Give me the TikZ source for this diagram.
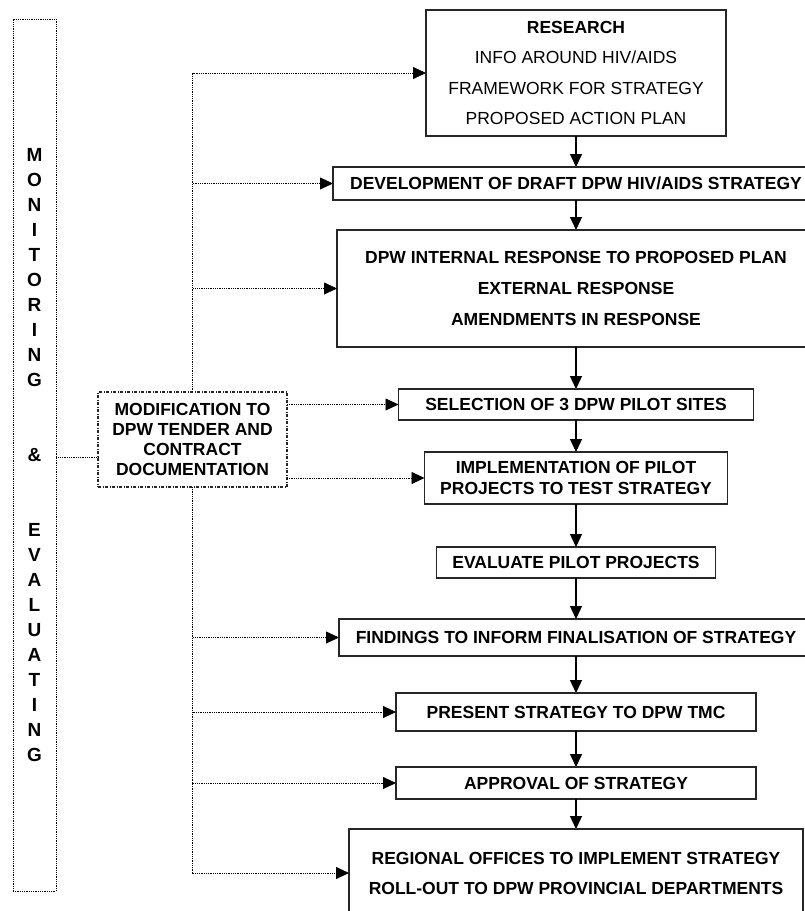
\documentclass[tikz,border=0pt]{standalone}
\usepackage{fontspec}
\setmainfont{Liberation Sans}
\usetikzlibrary{positioning,arrows.meta}

\tikzset{
    stage/.style={draw=black!85, line width=1.2pt, fill=white, align=center, inner sep=0pt, outer sep=0pt,
        font=\fontsize{17.5}{20}\selectfont\bfseries},
    flow/.style={draw, line width=1.3pt, -{Triangle[length=13pt,width=12pt]}},
    feed/.style={draw, line width=0.8pt, dash pattern=on 0.9pt off 0.9pt, -{Triangle[length=13pt,width=12pt]}},
}

\begin{document}
\begin{tikzpicture}[x=1pt, y=-1pt]
    \useasboundingbox (0,0) rectangle (805,911);

    % main chain
    \node[stage, minimum width=300pt, minimum height=126pt, font=\fontsize{17.5}{30.5}\selectfont] (research) at (576,73)
        {\textbf{RESEARCH}\\INFO AROUND HIV/AIDS\\FRAMEWORK FOR STRATEGY\\PROPOSED ACTION PLAN};
    \node[stage, below=31pt of research, minimum width=486pt, minimum height=33pt] (draft)
        {DEVELOPMENT OF DRAFT DPW HIV/AIDS STRATEGY};
    \node[stage, below=30pt of draft, minimum width=478pt, minimum height=117pt, font=\fontsize{17.5}{31}\selectfont\bfseries] (response)
        {DPW INTERNAL RESPONSE TO PROPOSED PLAN\\EXTERNAL RESPONSE\\AMENDMENTS IN RESPONSE};
    \node[stage, below=42pt of response, minimum width=355pt, minimum height=31pt] (sites)
        {SELECTION OF 3 DPW PILOT SITES};
    \node[stage, below=32pt of sites, minimum width=303pt, minimum height=52pt, font=\fontsize{17.5}{21}\selectfont\bfseries] (pilot)
        {IMPLEMENTATION OF PILOT\\PROJECTS TO TEST STRATEGY};
    \node[stage, below=43pt of pilot, minimum width=279pt, minimum height=31pt] (evaluate)
        {EVALUATE PILOT PROJECTS};
    \node[stage, below=41pt of evaluate, minimum width=474pt, minimum height=37pt] (findings)
        {FINDINGS TO INFORM FINALISATION OF STRATEGY};
    \node[stage, below=37pt of findings, minimum width=360pt, minimum height=38pt] (present)
        {PRESENT STRATEGY TO DPW TMC};
    \node[stage, below=36pt of present, minimum width=360pt, minimum height=32pt] (approval)
        {APPROVAL OF STRATEGY};
    \node[stage, below=30pt of approval, minimum width=454pt, minimum height=88pt, font=\fontsize{17.5}{30}\selectfont\bfseries] (rollout)
        {REGIONAL OFFICES TO IMPLEMENT STRATEGY\\ROLL-OUT TO DPW PROVINCIAL DEPARTMENTS};

    % side boxes
    \node[stage, dash pattern=on 3pt off 1.5pt on 1pt off 1.5pt, minimum width=189pt, minimum height=95pt,
        font=\fontsize{17.5}{20.3}\selectfont\bfseries] (mod) at (192.5,439.5)
        {MODIFICATION TO\\DPW TENDER AND\\CONTRACT\\DOCUMENTATION};
    \node[draw, line width=0.8pt, dash pattern=on 0.9pt off 0.9pt, minimum width=43pt, minimum height=872pt,
        align=center, font=\fontsize{19}{25}\selectfont\bfseries] (monitor) at (34.5,455)
        {M\\O\\N\\I\\T\\O\\R\\I\\N\\G\\[50pt]\&\\[50pt]E\\V\\A\\L\\U\\A\\T\\I\\N\\G};
    \coordinate (amp) at (34.5,457);

    \draw[flow] (research) -- (draft);
    \draw[flow] (draft) -- (response);
    \draw[flow] (response) -- (sites);
    \draw[flow] (sites) -- (pilot);
    \draw[flow] (pilot) -- (evaluate);
    \draw[flow] (evaluate) -- (findings);
    \draw[flow] (findings) -- (present);
    \draw[flow] (present) -- (approval);
    \draw[flow] (approval) -- (rollout);

    \draw[feed] (mod.north) |- (research.west);
    \draw[feed] (mod.north) |- (draft.west);
    \draw[feed] (mod.north) |- (response.west);
    \draw[feed] (mod.east |- sites) -- (sites.west);
    \draw[feed] (mod.east |- pilot) -- (pilot.west);
    \draw[feed] (mod.south) |- (findings.west);
    \draw[feed] (mod.south) |- (present.west);
    \draw[feed] (mod.south) |- (approval.west);
    \draw[feed] (mod.south) |- (rollout.west);
    \draw[feed, -] (amp -| monitor.east) -- (amp -| mod.west);
\end{tikzpicture}
\end{document}
